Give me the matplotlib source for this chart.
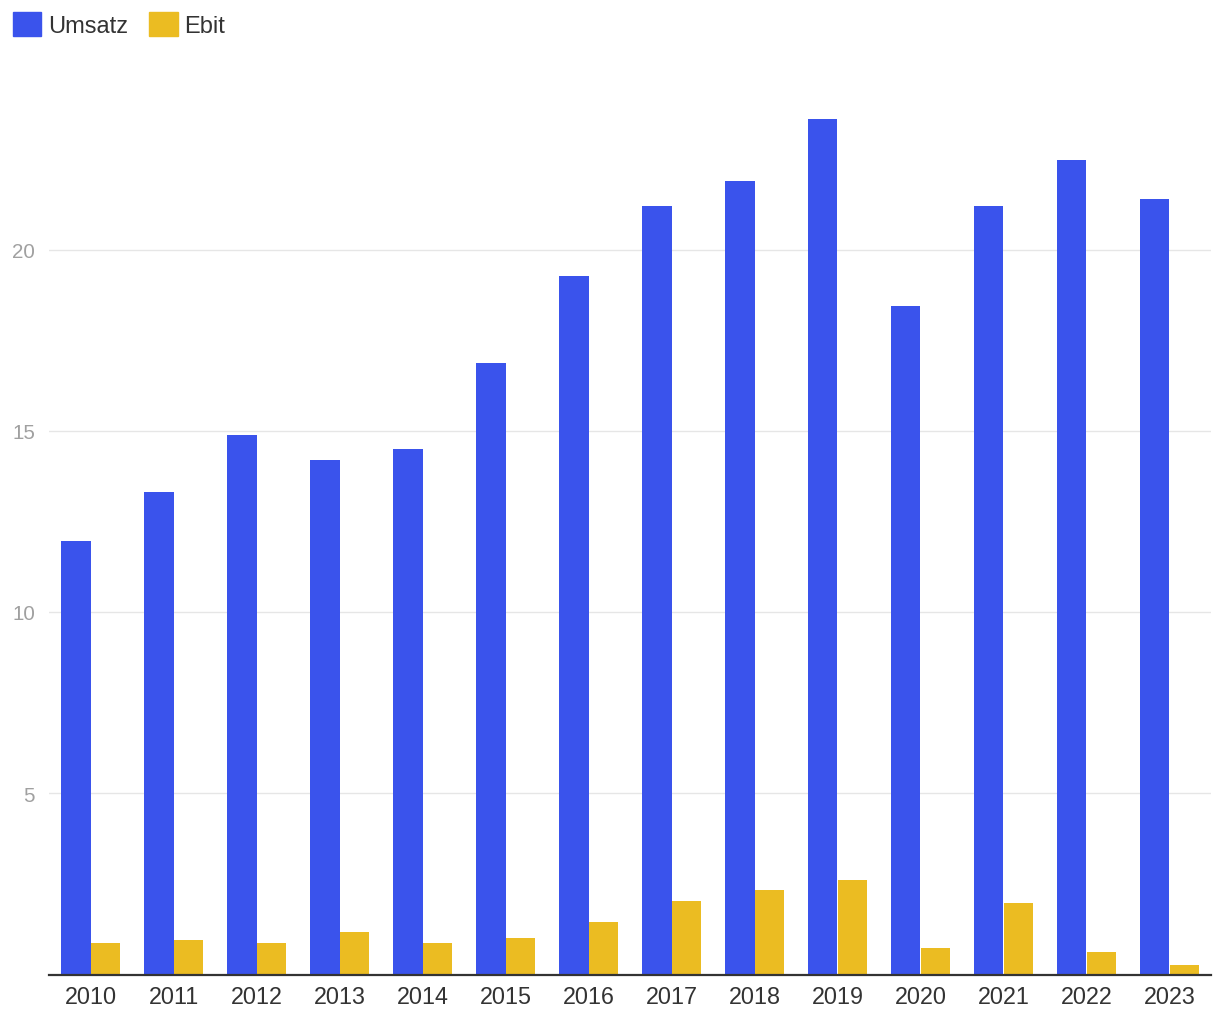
import matplotlib.pyplot as plt
import numpy as np
from matplotlib.patches import Patch

plt.rcParams['font.family'] = ['Liberation Sans', 'DejaVu Sans']

years = ['2010', '2011', '2012', '2013', '2014', '2015', '2016',
         '2017', '2018', '2019', '2020', '2021', '2022', '2023']
umsatz = [11.97, 13.3, 14.87, 14.18, 14.51, 16.88, 19.28,
          21.19, 21.9, 23.6, 18.43, 21.21, 22.48, 21.38]
ebit = [0.86, 0.94, 0.88, 1.16, 0.86, 1.02, 1.46,
        2.04, 2.34, 2.62, 0.72, 1.96, 0.63, 0.25]
yticks = [5, 10, 15, 20]

blue = '#3A53EC'
yellow = '#EBBC22'

fig = plt.figure(figsize=(12.2, 10.2), dpi=100)
ax = fig.add_axes([49 / 1220, (1020 - 975.5) / 1020, 1162 / 1220, 906.25 / 1020])

x = np.arange(len(years))
w = 0.35
ax.bar(x - w / 2, umsatz, width=w, color=blue, zorder=2)
ax.bar(x + w / 2, ebit, width=w, color=yellow, zorder=2)

ax.set_xlim(-0.5, len(years) - 0.5)
ax.set_ylim(0, 25)
ax.set_xticks(x)
ax.set_xticklabels(years, fontsize=16.8, color='#333333')
ax.set_yticks(yticks)
ax.set_yticklabels([str(t) for t in yticks], fontsize=14.8, color='#a0a0a0')
ax.tick_params(axis='x', length=0, pad=7.5)
ax.tick_params(axis='y', length=0, pad=10)
ax.grid(axis='y', color='#e6e6e6', linewidth=1.0, zorder=0)
for s in ['top', 'right', 'left']:
    ax.spines[s].set_visible(False)
ax.spines['bottom'].set_color('#333333')
ax.spines['bottom'].set_linewidth(1.6)
ax.spines['bottom'].set_zorder(3)

handles = [Patch(color=blue, label='Umsatz'), Patch(color=yellow, label='Ebit')]
fig.legend(handles=handles, loc='upper left', bbox_to_anchor=(0.0, 1.0), ncol=2,
           frameon=False, fontsize=17, labelcolor='#333333',
           handlelength=1.19, handleheight=1.19, handletextpad=0.3,
           columnspacing=0.9, borderaxespad=0.25, borderpad=0.3)

fig.savefig('out.png', dpi=100)
